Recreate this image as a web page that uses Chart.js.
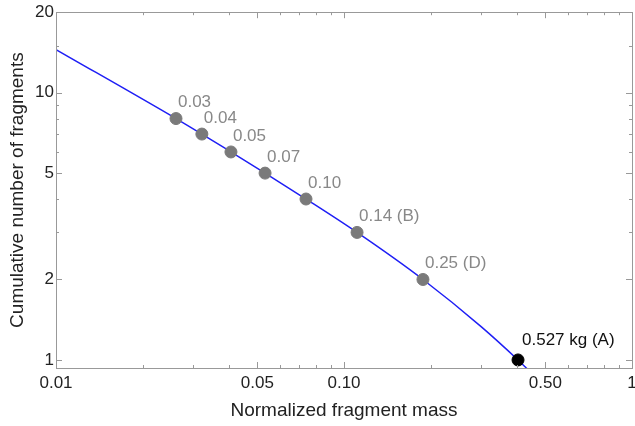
<!DOCTYPE html>
<html>
<head>
<meta charset="utf-8">
<script src="https://cdn.jsdelivr.net/npm/chart.js@4"></script>
<style>
  html, body { margin: 0; padding: 0; background: #fff; overflow: hidden; }
  #wrap { width: 635px; height: 426px; }
</style>
</head>
<body>
<div id="wrap"><canvas id="mychart"></canvas></div>
<script>
Chart.defaults.font.family = "'Liberation Sans', Arial, sans-serif";
Chart.defaults.font.size = 17;
Chart.defaults.color = "#222";

// fragment points (normalized mass, cumulative count)
var fragMass = [0.0261, 0.0321, 0.0405, 0.0532, 0.0738, 0.111, 0.188];
var fragCount = [8, 7, 6, 5, 4, 3, 2];
var fragLabels = ["0.03", "0.04", "0.05", "0.07", "0.10", "0.14 (B)", "0.25 (D)"];

// largest fragment
var bigMass = [0.402];
var bigCount = [1];
var bigLabels = ["0.527 kg (A)"];

// fitted curve
var curveMass = [0.01, 0.0261, 0.0321, 0.0405, 0.0532, 0.0738, 0.111, 0.188, 0.3, 0.402, 0.44];
var curveCount = [14.5, 8, 7, 6, 5, 4, 3, 2, 1.33, 1, 0.91];

// tick labels
var xTicks = [0.01, 0.05, 0.1, 0.5, 1];
var xTickText = ["0.01", "0.05", "0.10", "0.50", "1"];
var yTicks = [1, 2, 5, 10, 20];

function pts(xs, ys) {
   return xs.map(function (x, i) { return { x: x, y: ys[i] }; });
}

// inward tick marks on all four sides + x tick labels
// (x labels drawn here so the "1" at the right edge doesn't shrink the plot)
var tickPlugin = {
   id: "inTicks",
   afterDraw: function (chart) {
      var ctx = chart.ctx, a = chart.chartArea;
      var xs = chart.scales.x, ys = chart.scales.y;
      ctx.save();
      ctx.strokeStyle = "#999";
      ctx.lineWidth = 1;
      var xv = [];
      [0.01, 0.1].forEach(function (d) {
         for (var k = 1; k <= 9; k++) xv.push(+(d * k).toFixed(3));
      });
      xv.push(1);
      xv.forEach(function (v) {
         var p = Math.round(xs.getPixelForValue(v)) + 0.5;
         var L = xTicks.indexOf(v) >= 0 ? 6 : 3;
         ctx.beginPath();
         ctx.moveTo(p, a.bottom); ctx.lineTo(p, a.bottom - L);
         ctx.moveTo(p, a.top); ctx.lineTo(p, a.top + L);
         ctx.stroke();
      });
      var yv = [1, 2, 3, 4, 5, 6, 7, 8, 9, 10, 15, 20];
      yv.forEach(function (v) {
         var p = Math.round(ys.getPixelForValue(v)) + 0.5;
         var L = yTicks.indexOf(v) >= 0 ? 6 : 3;
         ctx.beginPath();
         ctx.moveTo(a.left, p); ctx.lineTo(a.left + L, p);
         ctx.moveTo(a.right, p); ctx.lineTo(a.right - L, p);
         ctx.stroke();
      });
      ctx.fillStyle = "#222";
      ctx.font = "17px 'Liberation Sans', Arial, sans-serif";
      ctx.textAlign = "center";
      ctx.textBaseline = "middle";
      xTicks.forEach(function (v, i) {
         ctx.fillText(xTickText[i], xs.getPixelForValue(v), a.bottom + 15);
      });
      ctx.restore();
   }
};

// text next to each marker
var labelPlugin = {
   id: "ptLabels",
   afterDatasetsDraw: function (chart) {
      var ctx = chart.ctx;
      ctx.save();
      ctx.font = "17px 'Liberation Sans', Arial, sans-serif";
      ctx.textAlign = "left";
      ctx.textBaseline = "middle";
      chart.data.datasets.forEach(function (ds, di) {
         if (!ds.pointText) return;
         var meta = chart.getDatasetMeta(di);
         ctx.fillStyle = ds.textColor;
         meta.data.forEach(function (el, i) {
            ctx.fillText(ds.pointText[i], el.x + ds.dx, el.y + ds.dy);
         });
      });
      ctx.restore();
   }
};

new Chart(document.getElementById("mychart"), {
   type: "scatter",
   data: {
      datasets: [
         {
            data: pts(curveMass, curveCount),
            showLine: true,
            borderColor: "#1f1ff5",
            borderWidth: 1.5,
            pointRadius: 0,
            cubicInterpolationMode: "monotone",
            order: 3
         },
         {
            data: pts(fragMass, fragCount),
            backgroundColor: "#7a7a7a",
            borderColor: "#7a7a7a",
            pointRadius: 6,
            pointText: fragLabels,
            textColor: "#888",
            dx: 2,
            dy: -16,
            order: 2
         },
         {
            data: pts(bigMass, bigCount),
            backgroundColor: "#000",
            borderColor: "#000",
            pointRadius: 6,
            pointText: bigLabels,
            textColor: "#111",
            dx: 4,
            dy: -20,
            order: 1
         }
      ]
   },
   options: {
      responsive: true,
      maintainAspectRatio: false,
      animation: false,
      layout: { autoPadding: false, padding: { top: 12, right: 3, left: 0, bottom: 0 } },
      plugins: { legend: { display: false }, tooltip: { enabled: false } },
      scales: {
         x: {
            type: "logarithmic",
            min: 0.01,
            max: 1,
            afterBuildTicks: function (s) { s.ticks = xTicks.map(function (v) { return { value: v }; }); },
            afterFit: function (s) { s.height = 58; s.paddingLeft = 0; s.paddingRight = 0; },
            ticks: { display: false },
            grid: { display: false, drawTicks: false },
            border: { display: true, color: "#999" },
            title: { display: true, text: "Normalized fragment mass", font: { size: 19 }, padding: { top: 6 } }
         },
         y: {
            type: "logarithmic",
            min: 0.933,
            max: 20,
            afterBuildTicks: function (s) { s.ticks = yTicks.map(function (v) { return { value: v }; }); },
            afterFit: function (s) { s.width = 56; },
            ticks: { padding: 2, callback: function (v) { return String(v); } },
            grid: { display: false, drawTicks: false },
            border: { display: true, color: "#999" },
            title: { display: true, text: "Cumulative number of fragments", font: { size: 19 }, padding: { top: 6, bottom: 2 } }
         }
      }
   },
   plugins: [tickPlugin, labelPlugin, {
      id: "frame",
      afterDraw: function (chart) {
         var ctx = chart.ctx, a = chart.chartArea;
         ctx.save();
         ctx.strokeStyle = "#999";
         ctx.lineWidth = 1;
         ctx.strokeRect(Math.round(a.left) + 0.5, Math.round(a.top) + 0.5,
            Math.round(a.right - a.left), Math.round(a.bottom - a.top));
         ctx.restore();
      }
   }]
});
</script>
</body>
</html>
